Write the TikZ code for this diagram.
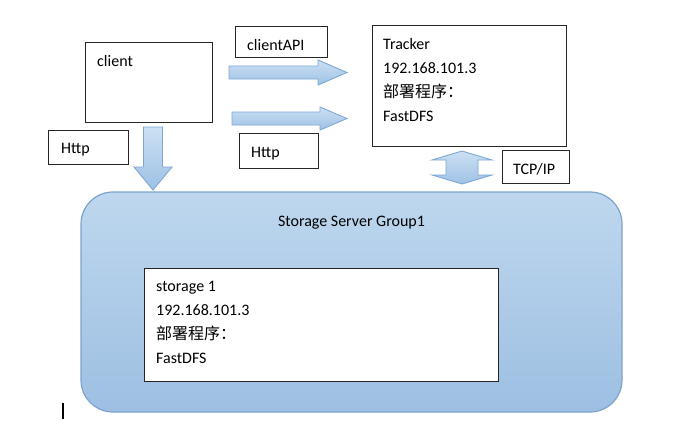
\documentclass[tikz,border=0pt]{standalone}
\usepackage{fontspec}
\setmainfont{Carlito}
\newfontfamily\cjk{Noto Sans CJK SC}
\usepackage{tikz}
\usetikzlibrary{calc,positioning}
\definecolor{grouptop}{HTML}{BED7EE}
\definecolor{groupbottom}{HTML}{9DBFE2}
\definecolor{groupline}{HTML}{7DA3CC}
\definecolor{arrowtop}{HTML}{CCE0F3}
\definecolor{arrowbottom}{HTML}{9EC1E5}
\definecolor{arrowline}{HTML}{7EA7D5}
\tikzstyle{plain box}=[draw=black!85,line width=0.9pt,fill=white,inner sep=0,anchor=north west]
\tikzstyle{box text}=[inner sep=0,anchor=base west,align=left,font=\fontsize{16}{24}\selectfont]
\tikzstyle{block arrow}=[draw=arrowline,line width=0.9pt,top color=arrowtop,bottom color=arrowbottom]

\begin{document}
\begin{tikzpicture}[x=1pt,y=-1pt]
		\useasboundingbox (0,0) rectangle (692,428);

		% storage group
		\draw[groupline,line width=1.2pt,rounded corners=32pt,top color=grouptop,bottom color=groupbottom]
		    (81,192) rectangle (622,412);
		\node(group)[box text,anchor=base] at (351.5,226) {Storage Server Group1};
		\node(storage)[plain box,minimum width=354,minimum height=113] at (144,268) {};
		% base of a multi-line node = last line
		\node(storagetxt)[box text,font=\fontsize{16}{23.7}\selectfont] at (156,363) {storage 1\\192.168.101.3\\{\cjk 部署程序：}\\FastDFS};

		% client side
		\node(client)[plain box,minimum width=127,minimum height=80] at (85,42) {};
		\node(clienttxt)[box text] at (97,66) {client};
		\node(api)[plain box,minimum width=92,minimum height=31] at (235,26) {};
		\node(apitxt)[box text] at (247,50) {clientAPI};
		\node(http1)[plain box,minimum width=80,minimum height=34] at (48,130) {};
		\node(http1txt)[box text] at (61,153) {Http};
		\node(http2)[plain box,minimum width=79,minimum height=35] at (239,133) {};
		\node(http2txt)[box text] at (251,157) {Http};

		% tracker
		\node(tracker)[plain box,minimum width=194,minimum height=121] at (372,25) {};
		\node(trackertxt)[box text] at (383,121) {Tracker\\192.168.101.3\\{\cjk 部署程序：}\\FastDFS};
		\node(tcp)[plain box,minimum width=67,minimum height=33] at (502,150) {};
		\node(tcptxt)[box text] at (513,174) {TCP/IP};

		% block arrows
		\draw[block arrow] (229,66) -- (318,66) -- (318,60) -- (347,72.5) -- (318,85) -- (318,79) -- (229,79) -- cycle;
		\draw[block arrow] (232,112) -- (320,112) -- (320,107) -- (347,118.5) -- (320,130) -- (320,125) -- (232,125) -- cycle;
		\draw[block arrow] (143.5,127) -- (162.5,127) -- (162.5,167) -- (172,167) -- (153,190) -- (134,167) -- (143.5,167) -- cycle;
		\draw[block arrow] (462,151) -- (492,160) -- (478,160) -- (478,175) -- (492,175) -- (462,184)
		    -- (432,175) -- (446,175) -- (446,160) -- (432,160) -- cycle;

		% cursor mark
		\draw[line width=1.5pt] (63,403) -- (63,419);

		\end{tikzpicture}
\end{document}
